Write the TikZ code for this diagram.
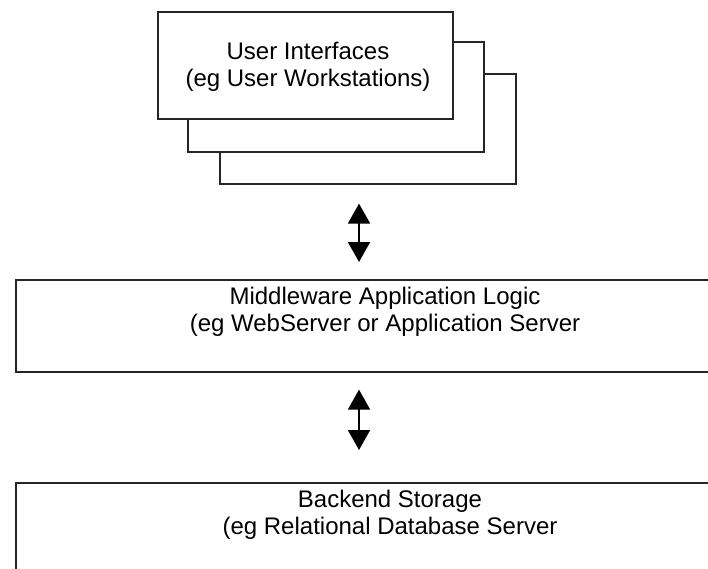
\documentclass[tikz,border=0pt]{standalone}
\usepackage{fontspec}
\setmainfont{Liberation Sans}
\usetikzlibrary{arrows.meta,calc}
\begin{document}
\begin{tikzpicture}[x=1pt,y=-1pt,
  boxline/.style={draw=black!85,line width=1.6pt,fill=white,inner sep=0pt,anchor=north west},
  lbl/.style={inner sep=0pt,align=center,font=\fontsize{24}{27}\selectfont},
  dbl/.style={line width=1.8pt,{Triangle[width=22pt,length=20pt]}-{Triangle[width=22pt,length=20pt]}}]
\useasboundingbox (0,0) rectangle (708,568);
\clip (0,0) rectangle (708,568);
% user interface stack
\node[boxline,minimum width=296pt,minimum height=110pt] (ui3) at (219,73) {};
\node[boxline,minimum width=296pt,minimum height=110pt] (ui2) at (187,41) {};
\node[boxline,minimum width=295pt,minimum height=107pt] (ui1) at (157,11) {};
\node[lbl] (uit) at (308,67) {User Interfaces\\(eg User Workstations)};
% middleware
\node[boxline,minimum width=762pt,minimum height=92pt] (mw) at (15,279) {};
\node[lbl] (mwt) at (385,312) {Middleware Application Logic\\(eg WebServer or Application Server};
% backend
\node[boxline,minimum width=762pt,minimum height=130pt] (be) at (15,482) {};
\node[lbl] (bet) at (390,515) {Backend Storage\\(eg Relational Database Server};
% arrows
\coordinate (ax) at (359,0);
\draw[dbl,shorten <=19pt,shorten >=17pt] (ui3.south -| ax) -- (mw.north -| ax);
\draw[dbl,shorten <=17pt,shorten >=32pt] (mw.south -| ax) -- (be.north -| ax);
\end{tikzpicture}
\end{document}
